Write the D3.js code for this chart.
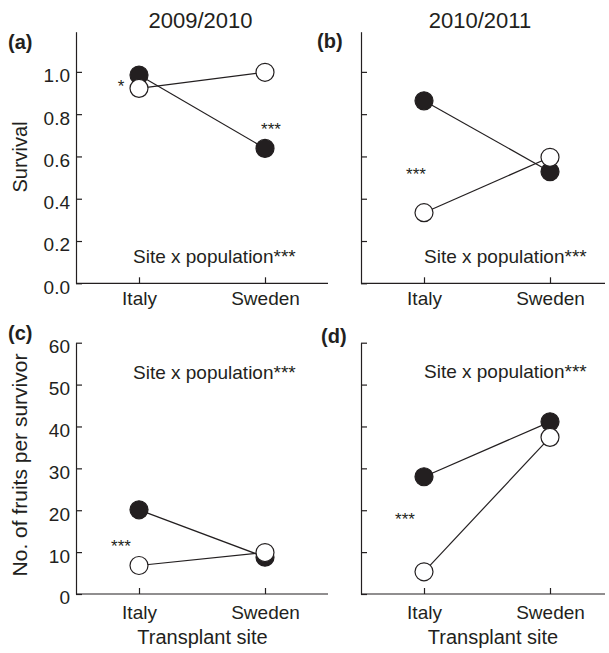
<!DOCTYPE html>
<html>
<head>
<meta charset="utf-8">
<script src="https://cdn.jsdelivr.net/npm/d3@7"></script>
<style>
  body { margin: 0; background: #fff; }
  svg { display: block; font-family: "Liberation Sans", Arial, sans-serif; }
  .axis text { font-size: 19px; fill: #231f20; }
  .axis line, .axis path { stroke: #231f20; stroke-width: 1.2; }
</style>
</head>
<body>
<svg id="chart" width="609" height="653"></svg>
<script>
// data
var sites = ["Italy", "Sweden"];
var survival0910Filled = [0.985, 0.638];
var survival0910Open = [0.922, 0.998];
var survival1011Filled = [0.863, 0.528];
var survival1011Open = [0.334, 0.596];
var fruits0910Filled = [20.1, 8.8];
var fruits0910Open = [6.8, 9.9];
var fruits1011Filled = [28.0, 41.1];
var fruits1011Open = [5.3, 37.4];
var survivalTicks = [0, 0.2, 0.4, 0.6, 0.8, 1.0];
var fruitTicks = [0, 10, 20, 30, 40, 50, 60];
var seasons = ["2009/2010", "2010/2011"];

var ink = "#231f20";
var svg = d3.select("#chart");

var panels = [
    { id: "(a)", left: 76, bottom: 283.3, top: 31.7, max: 1.19, ticks: survivalTicks, labels: true, w: 252,
      filled: survival0910Filled, open: survival0910Open, lx: 8, ly: 49, xpad: 8.5, sy: 263,
      stars: [{ site: "Italy", value: 0.952, dx: -18, text: "*" }, { site: "Sweden", value: 0.749, dx: 6, text: "***" }] },
    { id: "(b)", left: 361, bottom: 283.3, top: 31.7, max: 1.19, ticks: survivalTicks, labels: false, w: 244,
      filled: survival1011Filled, open: survival1011Open, lx: 317, ly: 48, xpad: 8.5, sy: 263,
      stars: [{ site: "Italy", value: 0.536, dx: -8, text: "***" }] },
    { id: "(c)", left: 76, bottom: 594, top: 342.7, max: 60, ticks: fruitTicks, labels: true, w: 252,
      filled: fruits0910Filled, open: fruits0910Open, lx: 8, ly: 340, xpad: 11.5, sy: 379,
      stars: [{ site: "Italy", value: 12.5, dx: -18, text: "***" }] },
    { id: "(d)", left: 361, bottom: 594, top: 342.7, max: 60, ticks: fruitTicks, labels: false, w: 244,
      filled: fruits1011Filled, open: fruits1011Open, lx: 321, ly: 343, xpad: 11.5, sy: 378,
      stars: [{ site: "Italy", value: 18.9, dx: -19, text: "***" }] }
];

panels.forEach(function (p) {
    var x = d3.scalePoint().domain(sites).range([0, 252]).padding(0.5);
    var y = d3.scaleLinear().domain([0, p.max]).range([p.bottom, p.top]);
    var g = svg.append("g").attr("transform", "translate(" + p.left + ",0)");

    // y axis, ticks pointing inward
    var ya = g.append("g")
        .attr("class", "axis")
        .call(d3.axisLeft(y).tickValues(p.ticks).tickSize(-6).tickSizeOuter(0).tickPadding(6)
            .tickFormat(p.labels ? (p.max > 2 ? d3.format("d") : d3.format(".1f")) : ""));
    ya.selectAll("text").attr("dy", "0.52em");

    // x axis
    var xa = g.append("g")
        .attr("class", "axis")
        .attr("transform", "translate(0," + p.bottom + ")")
        .call(d3.axisBottom(x).tickSize(-6).tickSizeOuter(0).tickPadding(p.xpad));
    xa.select(".domain").attr("d", "M0,0H" + p.w);

    // lines connecting sites
    var line = d3.line().x(function (d, i) { return x(sites[i]); }).y(function (d) { return y(d); });
    [p.filled, p.open].forEach(function (s) {
        g.append("path").datum(s).attr("d", line)
            .attr("fill", "none").attr("stroke", ink).attr("stroke-width", 1.2);
    });

    // points: filled first, open on top
    g.selectAll(".filled").data(p.filled).enter().append("circle")
        .attr("cx", function (d, i) { return x(sites[i]); })
        .attr("cy", function (d) { return y(d); })
        .attr("r", 9).attr("fill", ink).attr("stroke", ink).attr("stroke-width", 1.2);
    g.selectAll(".open").data(p.open).enter().append("circle")
        .attr("cx", function (d, i) { return x(sites[i]); })
        .attr("cy", function (d) { return y(d); })
        .attr("r", 9).attr("fill", "#fff").attr("stroke", ink).attr("stroke-width", 1.2);

    // significance stars
    p.stars.forEach(function (s) {
        g.append("text")
            .attr("x", x(s.site) + s.dx).attr("y", y(s.value))
            .attr("dy", "0.58em")
            .attr("text-anchor", "middle")
            .style("font-size", "17px").style("fill", ink)
            .text(s.text);
    });

    g.append("text")
        .attr("x", p.labels ? 57 : 63).attr("y", p.sy)
        .style("font-size", "19px").style("fill", ink)
        .text("Site x population***");

    svg.append("text")
        .attr("x", p.lx).attr("y", p.ly)
        .style("font-size", "20px").style("font-weight", "bold").style("fill", ink)
        .text(p.id);
});

// column titles
svg.selectAll(".season").data(seasons).enter().append("text")
    .attr("x", function (d, i) { return i === 0 ? 200.5 : 480; })
    .attr("y", 28)
    .attr("text-anchor", "middle")
    .style("font-size", "22px").style("fill", ink)
    .text(function (d) { return d; });

// y axis titles
svg.append("text")
    .attr("transform", "translate(27,157) rotate(-90)")
    .attr("text-anchor", "middle")
    .style("font-size", "20px").style("fill", ink)
    .text("Survival");
svg.append("text")
    .attr("transform", "translate(27,465) rotate(-90)")
    .attr("text-anchor", "middle")
    .style("font-size", "21px").style("fill", ink)
    .text("No. of fruits per survivor");

// x axis titles
[202.5, 493].forEach(function (cx) {
    svg.append("text")
        .attr("x", cx).attr("y", 644)
        .attr("text-anchor", "middle")
        .style("font-size", "20px").style("fill", ink)
        .text("Transplant site");
});
</script>
</body>
</html>
